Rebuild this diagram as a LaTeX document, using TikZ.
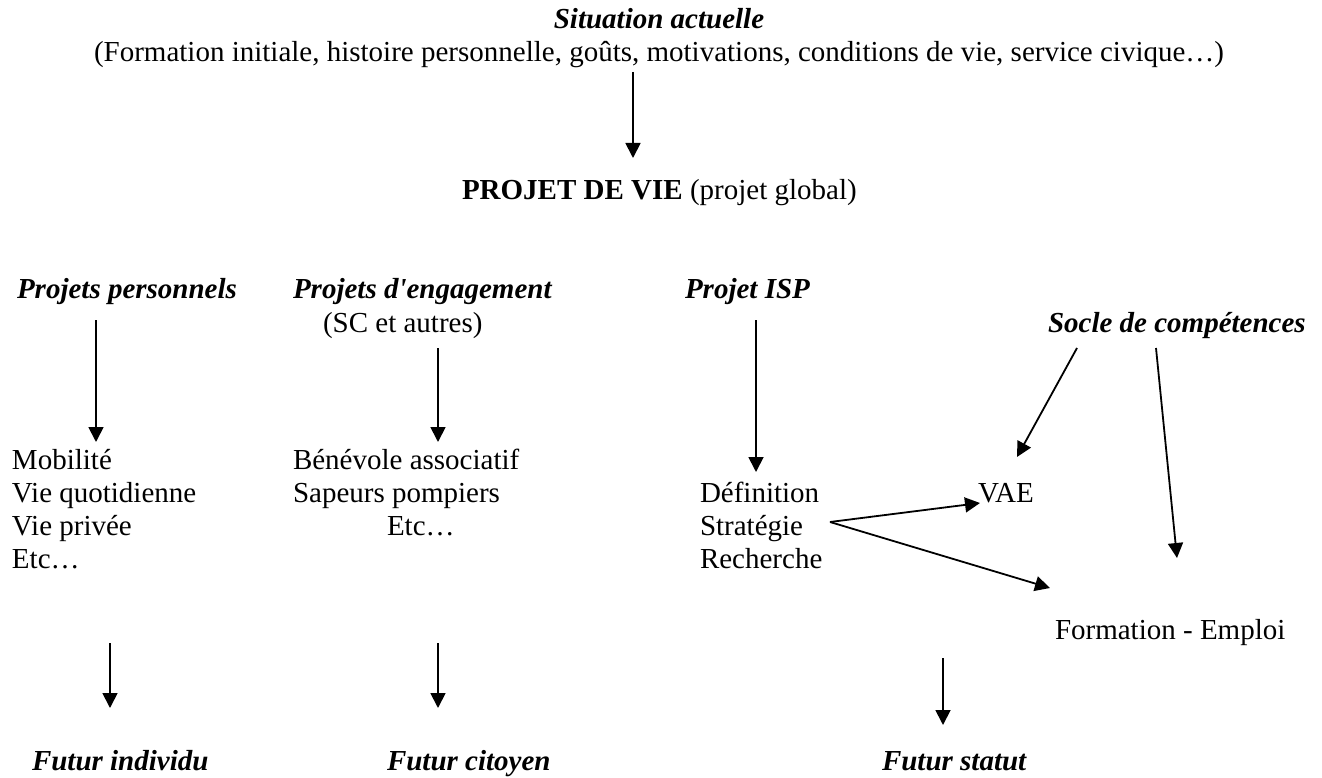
\documentclass[tikz,border=0pt]{standalone}
\usepackage{fontspec}
\setmainfont{Liberation Serif}
\usetikzlibrary{arrows.meta}
\begin{document}
\begin{tikzpicture}[x=1pt,y=-1pt,
  txt/.style={inner sep=0pt,outer sep=0pt,anchor=base west,font=\fontsize{29pt}{33pt}\selectfont},
  ttl/.style={txt,font=\fontsize{29pt}{33pt}\selectfont\bfseries\itshape},
  arr/.style={line width=1.8pt,-{Triangle[length=15pt,width=15pt]}}]
\useasboundingbox (0,0) rectangle (1322,778);
% texts
\node[ttl,anchor=base] (sit) at (659,29) {Situation actuelle};
\node[txt,anchor=base] (det) at (659,62) {(Formation initiale, histoire personnelle, goûts, motivations, conditions de vie, service civique…)};
\node[txt] (pv) at (462,200) {\textbf{PROJET DE VIE} (projet global)};
\node[ttl] (pp) at (17,298) {Projets personnels};
\node[ttl] (pe) at (293,298) {Projets d\textquotesingle engagement};
\node[txt] (sc) at (323,332) {(SC et autres)};
\node[ttl] (isp) at (685,298) {Projet ISP};
\node[ttl] (socle) at (1048,332) {Socle de compétences};
\node[txt] (mob) at (12,469) {Mobilité};
\node[txt] (vq) at (12,502) {Vie quotidienne};
\node[txt] (vp) at (12,535) {Vie privée};
\node[txt] (etc1) at (12,568) {Etc…};
\node[txt] (ben) at (293,469) {Bénévole associatif};
\node[txt] (sap) at (293,502) {Sapeurs pompiers};
\node[txt] (etc2) at (387,535) {Etc…};
\node[txt] (def) at (700,502) {Définition};
\node[txt] (strat) at (700,535) {Stratégie};
\node[txt] (rech) at (700,568) {Recherche};
\node[txt] (vae) at (978,502) {VAE};
\node[txt] (fe) at (1055,639) {Formation - Emploi};
\node[ttl] (fi) at (32,770) {Futur individu};
\node[ttl] (fc) at (387,770) {Futur citoyen};
\node[ttl] (fs) at (882,770) {Futur statut};
% connector ends
\coordinate (a0s) at (633,72);   \coordinate (a0e) at (633,158);
\coordinate (a1s) at (96,320);   \coordinate (a1e) at (96,442);
\coordinate (a2s) at (438,348);  \coordinate (a2e) at (438,442);
\coordinate (a3s) at (756,320);  \coordinate (a3e) at (756,472);
\coordinate (a4s) at (1077,348); \coordinate (a4e) at (1017,457);
\coordinate (a5s) at (1156,348); \coordinate (a5e) at (1177,558);
\coordinate (a6s) at (830,522);  \coordinate (a6e) at (980,503);
\coordinate (a7e) at (1050,588);
\coordinate (b1s) at (110,643);  \coordinate (b1e) at (110,708);
\coordinate (b2s) at (438,643);  \coordinate (b2e) at (438,708);
\coordinate (b3s) at (943,658);  \coordinate (b3e) at (943,725);
% connectors
\draw[arr] (a0s) -- (a0e);
\draw[arr] (a1s) -- (a1e);
\draw[arr] (a2s) -- (a2e);
\draw[arr] (a3s) -- (a3e);
\draw[arr] (a4s) -- (a4e);
\draw[arr] (a5s) -- (a5e);
\draw[arr] (a6s) -- (a6e);
\draw[arr] (a6s) -- (a7e);
\draw[arr] (b1s) -- (b1e);
\draw[arr] (b2s) -- (b2e);
\draw[arr] (b3s) -- (b3e);
\end{tikzpicture}
\end{document}
